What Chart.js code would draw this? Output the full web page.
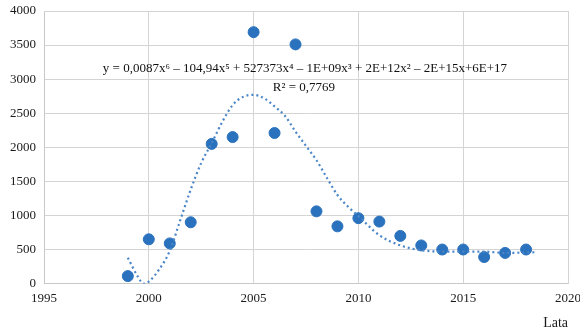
<!DOCTYPE html>
<html><head><meta charset="utf-8">
<script src="https://cdn.jsdelivr.net/npm/chart.js@4/dist/chart.umd.min.js"></script>
<style>html,body{margin:0;padding:0;background:#fff}#w{width:580px;height:332px}</style>
</head><body><div id="w"><canvas id="c" width="580" height="332"></canvas></div>
<script>
const years = [1999,2000,2001,2002,2003,2004,2005,2006,2007,2008,2009,2010,2011,2012,2013,2014,2015,2016,2017,2018];
const counts = [110,650,590,900,2050,2150,3690,2210,3510,1060,840,960,910,700,560,500,500,390,450,500];
const trendYears = [1999,1999.5,1999.75,2000,2000.5,2001,2001.5,2002,2002.5,2003,2003.5,2004,2004.5,2005,2005.5,2006,2006.5,2007,2007.5,2008,2008.5,2009,2009.5,2010,2011,2012,2013,2014,2015,2016,2017,2018.4];
const trendValues = [380,90,0,30,210,480,930,1380,1770,2060,2370,2620,2740,2770,2720,2600,2460,2230,2020,1810,1550,1300,1130,990,710,560,490,470,470,470,450,460];
const xTicks = [1995,2000,2005,2010,2015,2020];
const yTicks = [0,500,1000,1500,2000,2500,3000,3500,4000];
const equation = 'y = 0,0087x⁶ – 104,94x⁵ + 527373x⁴ – 1E+09x³ + 2E+12x² – 2E+15x+6E+17';
const rSquared = 'R² = 0,7769';

const serif = "'Liberation Serif', 'DejaVu Serif', serif";
const labelPlugin = {
  id: 'eqn',
  afterDatasetsDraw(chart) {
    const ctx = chart.ctx;
    const xs = chart.scales.x, ys = chart.scales.y;
    ctx.save();
    ctx.font = '13px ' + serif;
    ctx.fillStyle = '#111';
    ctx.textAlign = 'center';
    ctx.textBaseline = 'middle';
    ctx.fillText(equation, xs.getPixelForValue(2007.45), ys.getPixelForValue(3157));
    ctx.fillText(rSquared, xs.getPixelForValue(2007.4), ys.getPixelForValue(2876));
    ctx.restore();
  }
};

new Chart(document.getElementById('c'), {
  type: 'scatter',
  data: {
    datasets: [
      {
        data: years.map((y,i)=>({x:y,y:counts[i]})),
        backgroundColor: '#2a72bd',
        borderColor: '#2a72bd',
        pointRadius: 5.5,
        pointHoverRadius: 5.5,
        order: 1
      },
      {
        data: trendYears.map((y,i)=>({x:y,y:trendValues[i]})),
        showLine: true,
        borderColor: '#4a86c8',
        borderWidth: 2.2,
        borderDash: [2,3],
        pointRadius: 0,
        cubicInterpolationMode: 'monotone',
        fill: false,
        order: 0
      }
    ]
  },
  options: {
    responsive: false,
    animation: false,
    layout: { padding: { top: 11, right: 12, left: 0, bottom: 0 } },
    plugins: { legend: { display: false }, tooltip: { enabled: false } },
    scales: {
      x: {
        type: 'linear', min: 1995, max: 2020,
        afterBuildTicks(s){ s.ticks = xTicks.map(v=>({value:v})); },
        afterFit(s){ s.paddingRight = 0; s.paddingLeft = 0; },
        grid: { color: '#d4d4d4', lineWidth: 1, drawTicks: false },
        border: { color: '#c8c8c8' },
        ticks: { color: '#1a1a1a', font: { family: serif, size: 13 }, padding: 7, maxRotation: 0, callback: v => String(v) },
        title: { display: true, text: 'Lata', align: 'end', color: '#1a1a1a', font: { family: serif, size: 14 }, padding: { top: 2, bottom: 0 } }
      },
      y: {
        min: 0, max: 4000,
        afterBuildTicks(s){ s.ticks = yTicks.map(v=>({value:v})); },
        afterFit(s){ s.width = 44; s.paddingTop = 0; s.paddingBottom = 0; },
        grid: { color: '#d4d4d4', lineWidth: 1, drawTicks: false },
        border: { color: '#c8c8c8' },
        ticks: { color: '#1a1a1a', font: { family: serif, size: 13 }, padding: 8, callback: v => String(v) }
      }
    }
  },
  plugins: [labelPlugin, {
    id: 'frame',
    afterDraw(chart){
      const a = chart.chartArea, ctx = chart.ctx;
      ctx.save(); ctx.strokeStyle = '#d4d4d4'; ctx.lineWidth = 1;
      ctx.beginPath(); ctx.moveTo(a.left, a.top+0.5); ctx.lineTo(a.right+0.5, a.top+0.5); ctx.lineTo(a.right+0.5, a.bottom); ctx.stroke();
      ctx.restore();
    }
  }]
});
</script></body></html>
